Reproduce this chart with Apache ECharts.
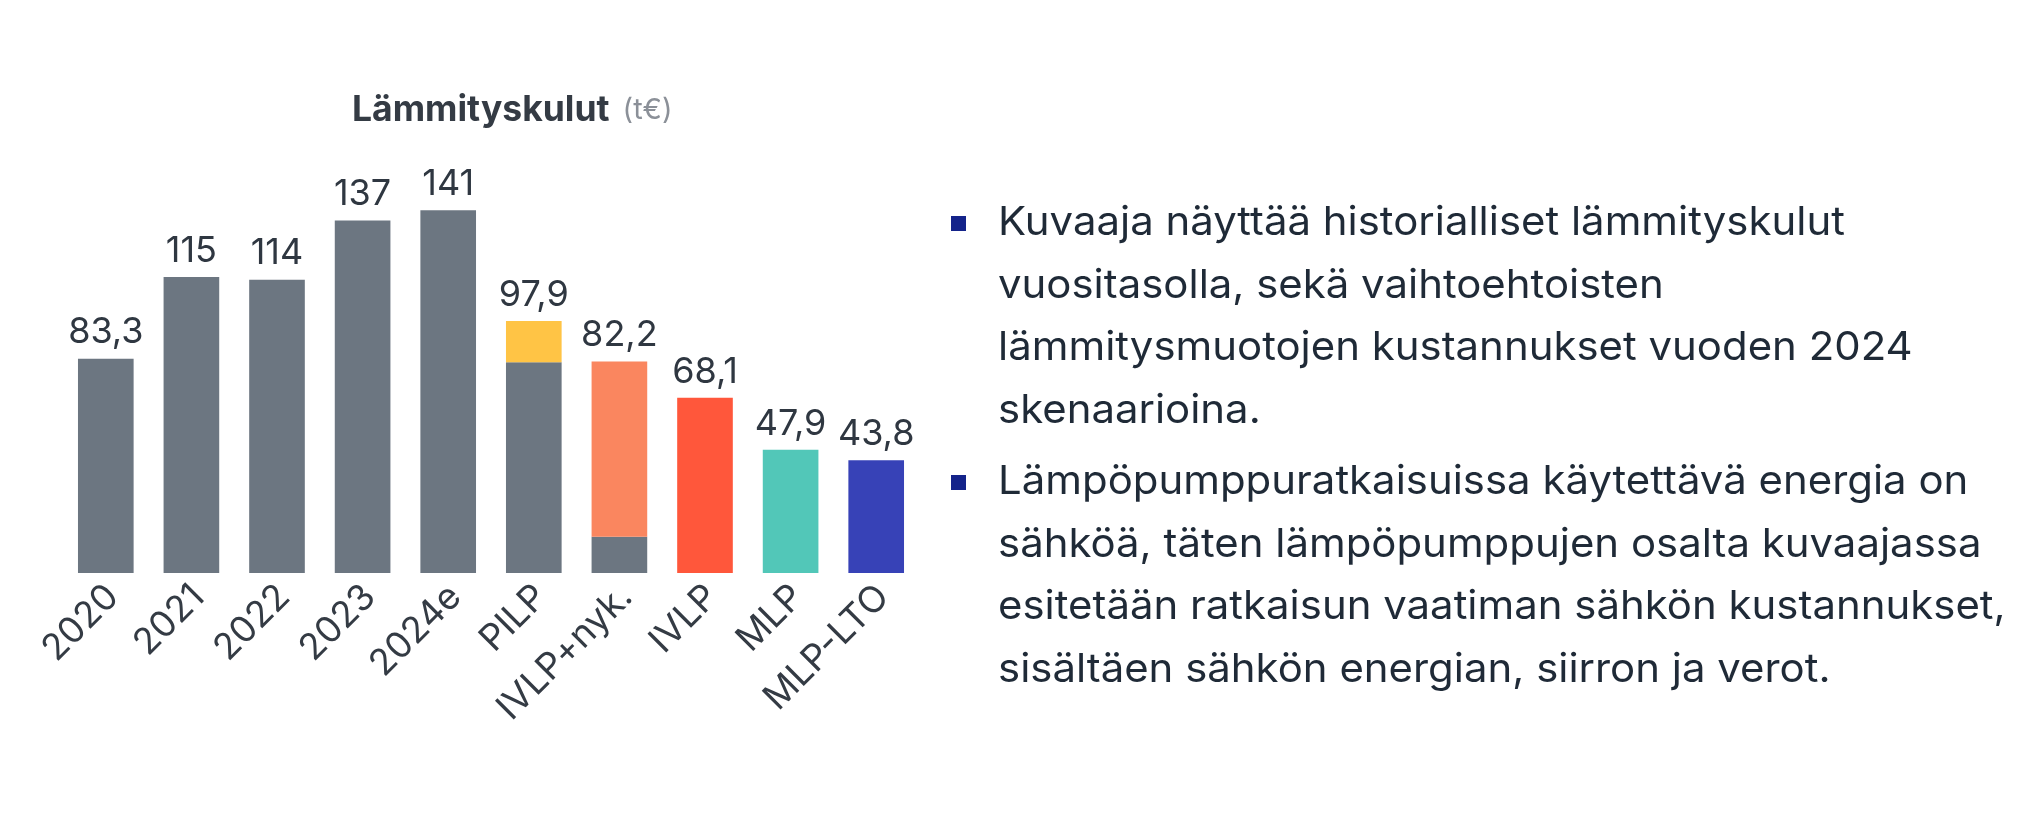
<!DOCTYPE html>
<html>
<head>
<meta charset="utf-8">
<script src="https://cdn.jsdelivr.net/npm/echarts@6/dist/echarts.min.js"></script>
<style>
  html, body { margin: 0; padding: 0; background: #ffffff; }
  #chart { width: 2038px; height: 820px; }
</style>
</head>
<body>
<div id="chart"></div>
<script>
// categories and values
var categories = ['2020', '2021', '2022', '2023', '2024e', 'PILP', 'IVLP+nyk.', 'IVLP', 'MLP', 'MLP-LTO'];
var baseValues = [83.3, 115, 114, 137, 141, 81.9, 14.1, 0, 0, 0];
var topValues = [0, 0, 0, 0, 0, 16.0, 68.1, 68.1, 47.9, 43.8];
var totals = [83.3, 115, 114, 137, 141, 97.9, 82.2, 68.1, 47.9, 43.8];
var topColors = ['#FFC445', '#FFC445', '#FFC445', '#FFC445', '#FFC445', '#FFC445', '#FA865F', '#FF573B', '#52C7B8', '#3742B7'];

var bullet1 = ['Kuvaaja näyttää historialliset lämmityskulut',
  'vuositasolla, sekä vaihtoehtoisten',
  'lämmitysmuotojen kustannukset vuoden 2024',
  'skenaarioina.'];
var bullet2 = ['Lämpöpumppuratkaisuissa käytettävä energia on',
  'sähköä, täten lämpöpumppujen osalta kuvaajassa',
  'esitetään ratkaisun vaatiman sähkön kustannukset,',
  'sisältäen sähkön energian, siirron ja verot.'];

var fontFam = 'Inter, "Noto Sans", sans-serif';
var gray = '#6C7681';

var myChart = echarts.init(document.getElementById('chart'));

function fmt(v) {
  return String(v).replace('.', ',');
}

var option = {
  backgroundColor: '#ffffff',
  animation: false,
  title: {
    text: '{a|Lämmityskulut}{b|(t€)}',
    left: 347,
    top: 87,
    textStyle: {
      rich: {
        a: { fontFamily: fontFam, fontSize: 35.5, fontWeight: 'bold', color: '#343B44' },
        b: { fontFamily: fontFam, fontSize: 29, fontWeight: 'normal', color: '#8B9098', padding: [0, 0, 0, 13] }
      }
    }
  },
  grid: { left: 63, right: 1119, top: 187, bottom: 247 },
  xAxis: {
    type: 'category',
    data: categories,
    axisLine: { show: false },
    axisTick: { show: false },
    axisLabel: {
      interval: 0,
      rotate: 45,
      margin: 11,
      verticalAlign: 'top',
      lineHeight: 20,
      fontFamily: fontFam,
      fontSize: 36.5,
      color: '#343B44'
    }
  },
  yAxis: {
    type: 'value',
    min: 0,
    max: 150,
    show: false,
    splitLine: { show: false }
  },
  series: [{
    name: 'pohja',
    type: 'bar',
    stack: 'kulut',
    barCategoryGap: '35%',
    data: baseValues,
    itemStyle: { color: gray }
  }, {
    name: 'lisä',
    type: 'bar',
    stack: 'kulut',
    data: topValues.map(function (v, i) {
      return { value: v, itemStyle: { color: topColors[i] } };
    }),
    label: {
      show: true,
      position: 'top',
      distance: 8,
      fontFamily: fontFam,
      fontSize: 36,
      color: '#2F3741',
      formatter: function (p) { return fmt(totals[p.dataIndex]); }
    }
  }],
  graphic: []
};

// bullet texts on the right
var textLeft = 998;
var lineGap = 62.5;
var g = option.graphic;
function addPara(lines, capTop) {
  g.push({
    type: 'rect',
    shape: { x: 951, y: capTop + 7, width: 15, height: 15 },
    style: { fill: '#14238A' }
  });
  lines.forEach(function (t, i) {
    g.push({
      type: 'text',
      x: textLeft,
      y: capTop - 6 + i * lineGap,
      scaleX: 1.048,
      style: {
        text: t,
        fontFamily: fontFam,
        fontSize: 40,
        fill: '#1F2A37',
        textVerticalAlign: 'top'
      }
    });
  });
}
addPara(bullet1, 209);
addPara(bullet2, 468);

myChart.setOption(option);

window.onresize = function () {
  myChart.resize();
};
</script>
</body>
</html>
